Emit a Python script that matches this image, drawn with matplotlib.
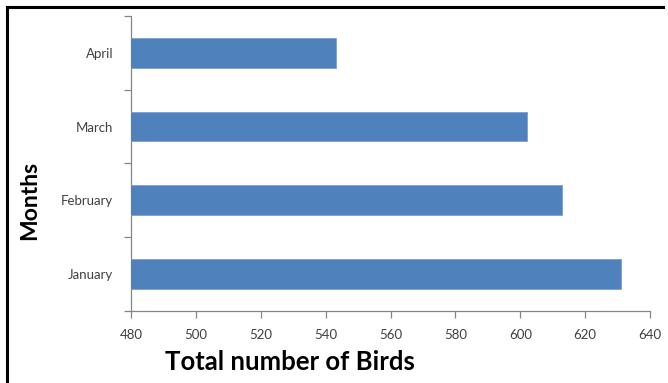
import matplotlib
matplotlib.use("Agg")
import matplotlib.pyplot as plt
from matplotlib.lines import Line2D
import numpy as np

# ── Data ─────────────────────────────────────────────────────────────────────
months = ["January", "February", "March", "April"]
birds = [631, 613, 602, 543]
x_ticks = [480, 500, 520, 540, 560, 580, 600, 620, 640]

plt.rcParams["font.family"] = ["Lato", "DejaVu Sans"]

fig = plt.figure(figsize=(6.68, 3.83), dpi=100, facecolor="white")
ax = fig.add_axes([0.1966, 0.1888, 0.7764, 0.7694])

y = np.arange(len(months))
ax.barh(y, birds, height=0.4, left=0, color="#4F81BD", edgecolor="#7A9FD3",
        linewidth=0.6, zorder=3)

ax.set_xlim(480, 640)
ax.set_ylim(-0.5, len(months) - 0.5)
ax.set_xticks(x_ticks)
ax.set_xticklabels([str(v) for v in x_ticks])
ax.set_yticks(y)
ax.set_yticklabels(months)
ax.set_yticks(np.arange(-0.5, len(months)), minor=True)

for s in ["top", "right"]:
    ax.spines[s].set_visible(False)
for s in ["left", "bottom"]:
    ax.spines[s].set_color("#868686")
    ax.spines[s].set_linewidth(0.9)

ax.tick_params(axis="x", colors="#868686", labelcolor="#404040", labelsize=9.5,
               length=5, width=0.9, pad=8)
ax.tick_params(axis="y", which="major", length=0, labelcolor="#404040",
               labelsize=9.5, pad=13)
ax.tick_params(axis="y", which="minor", colors="#868686", length=5, width=0.9)

fig.text(290 / 668, 1 - 362 / 383, "Total number of Birds", ha="center",
         va="center", fontsize=18.5, fontweight="bold", color="black")
fig.text(30 / 668, 1 - 200 / 383, "Months", ha="center", va="center",
         rotation=90, fontsize=16.5, fontweight="bold", color="black")

# frame lines (left and top edge of the pasted chart)
fig.add_artist(Line2D([7 / 668, 7 / 668], [0, 1 - 7 / 383], color="black",
                      linewidth=2.2, transform=fig.transFigure))
fig.add_artist(Line2D([7 / 668, 663 / 668], [1 - 7 / 383, 1 - 7 / 383],
                      color="black", linewidth=2.2, transform=fig.transFigure))

fig.savefig("out.png", dpi=100, facecolor="white")
